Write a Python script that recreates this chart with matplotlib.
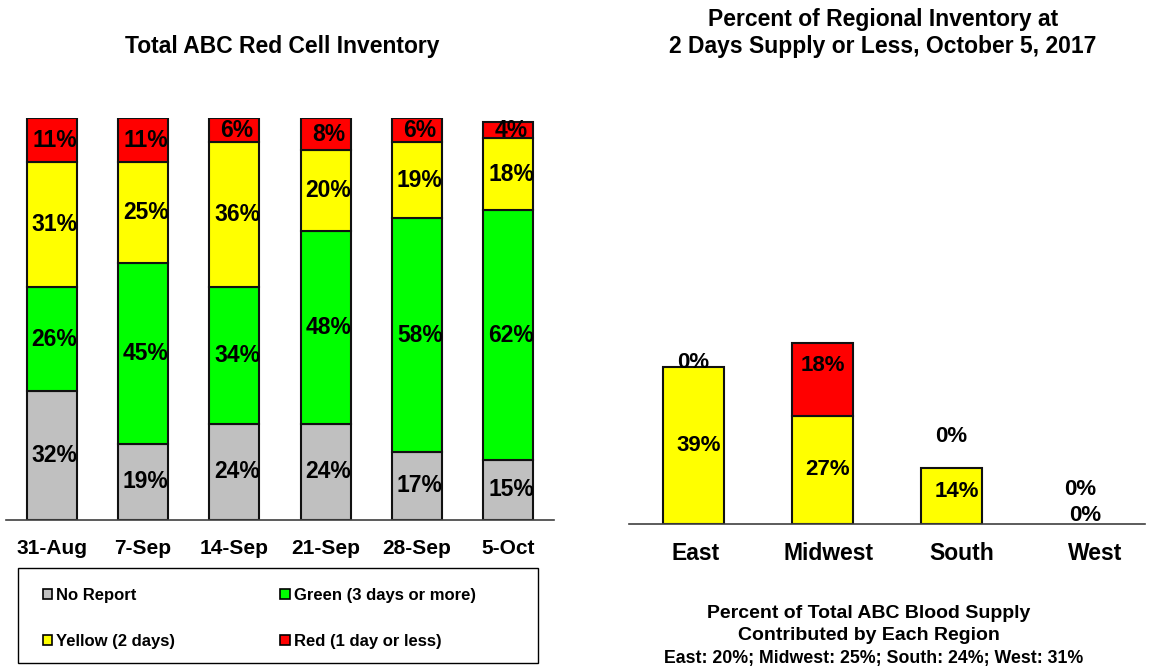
import matplotlib.pyplot as plt
from matplotlib.patches import Patch, Rectangle
import numpy as np

plt.rcParams["font.family"] = ["Liberation Sans", "DejaVu Sans"]
plt.rcParams["font.weight"] = "bold"

# Left chart: weekly inventory status (%)
weeks = ["31-Aug", "7-Sep", "14-Sep", "21-Sep", "28-Sep", "5-Oct"]
no_report = [32, 19, 24, 24, 17, 15]
green = [26, 45, 34, 48, 58, 62]
yellow = [31, 25, 36, 20, 19, 18]
red = [11, 11, 6, 8, 6, 4]

# Right chart: regional inventory at 2 days or less (%)
regions = ["East", "Midwest", "South", "West"]
region_yellow = [39, 27, 14, 0]
region_red = [0, 18, 0, 0]

supply_note = "East: 20%; Midwest: 25%; South: 24%; West: 31%"

GRAY = "#C0C0C0"
GREEN = "#00FF00"
YELLOW = "#FFFF00"
RED = "#FF0000"

W, H = 1159, 666
fig = plt.figure(figsize=(W / 100, H / 100), dpi=100)


def px_axes(x0, y0, x1, y1):
    return fig.add_axes([x0 / W, 1 - y1 / H, (x1 - x0) / W, (y1 - y0) / H])


def style_axes(ax, labels, ticks, size, pad):
    for side in ("top", "left", "right"):
        ax.spines[side].set_visible(False)
    ax.spines["bottom"].set_color("#404040")
    ax.spines["bottom"].set_linewidth(1.2)
    ax.set_yticks([])
    ax.set_xticks(ticks)
    ax.set_xticklabels(labels, fontsize=size, fontweight="bold")
    ax.tick_params(axis="x", length=0, pad=pad)
    ax.set_xlim(-0.5, len(labels) - 0.5)
    ax.set_ylim(0, 100)


# ---- left chart
ax1 = px_axes(6, 118, 554, 520)
x1 = np.arange(len(weeks))
bottom = np.zeros(len(weeks))
for vals, color in [(no_report, GRAY), (green, GREEN), (yellow, YELLOW), (red, RED)]:
    vals = np.array(vals, dtype=float)
    ax1.bar(x1, vals, 0.55, bottom=bottom, color=color, edgecolor="#111111",
            linewidth=1.5, zorder=2)
    for xi, b, v in zip(x1, bottom, vals):
        ax1.text(xi + 0.03, b + v / 2, "%d%%" % v, ha="center", va="center",
                 fontsize=16.5, fontweight="bold", zorder=3)
    bottom += vals
style_axes(ax1, weeks, x1, 15, 14)

fig.text(282 / W, 1 - 47 / H, "Total ABC Red Cell Inventory", ha="center",
         va="center", fontsize=16.5, fontweight="bold")

# legend box
fig.patches.append(Rectangle((18 / W, 1 - 663 / H), 520 / W, 95 / H,
                             transform=fig.transFigure, facecolor="white",
                             edgecolor="black", linewidth=1.0))
handles = [Patch(facecolor=GRAY, edgecolor="black", linewidth=1.2),
           Patch(facecolor=YELLOW, edgecolor="black", linewidth=1.2),
           Patch(facecolor=GREEN, edgecolor="black", linewidth=1.2),
           Patch(facecolor=RED, edgecolor="black", linewidth=1.2)]
labels = ["No Report", "Yellow (2 days)", "Green (3 days or more)", "Red (1 day or less)"]
leg = fig.legend(handles, labels, loc="upper left",
                 bbox_to_anchor=(43 / W, 1 - 588 / H),
                 ncol=2, fontsize=12, frameon=False, borderpad=0,
                 labelspacing=1.87, handlelength=0.55, handleheight=0.55,
                 handletextpad=0.25, borderaxespad=0, columnspacing=6.3)
for t in leg.get_texts():
    t.set_fontweight("bold")

# ---- right chart
ax2 = px_axes(629, 122.5, 1145, 524)
x2 = np.arange(len(regions))
ry = np.array(region_yellow, dtype=float)
rr = np.array(region_red, dtype=float)
ax2.bar(x2[ry > 0], ry[ry > 0], 0.48, color=YELLOW, edgecolor="#111111",
        linewidth=1.5, zorder=2)
ax2.bar(x2[rr > 0], rr[rr > 0], 0.48, bottom=ry[rr > 0], color=RED,
        edgecolor="#111111", linewidth=1.5, zorder=2)

# label nudges (in % units) to follow the original label placement
yellow_nudge = [0, 0, 1, 2.2]
red_nudge = [1.1, 3.6, 7.7, 8.5]
for i in range(len(regions)):
    ax2.text(x2[i] + 0.04, ry[i] / 2 + yellow_nudge[i], "%d%%" % ry[i],
             ha="center", va="center", fontsize=16, fontweight="bold", zorder=3)
    ax2.text(x2[i], ry[i] + rr[i] / 2 + red_nudge[i], "%d%%" % rr[i],
             ha="center", va="center", fontsize=16, fontweight="bold", zorder=3)
style_axes(ax2, regions, x2 * 1.03 + 0.02, 16.5, 13)

fig.text(883 / W, 1 - 33 / H,
         "Percent of Regional Inventory at\n2 Days Supply or Less, October 5, 2017",
         ha="center", va="center", fontsize=16.5, fontweight="bold", linespacing=1.2)
fig.text(869 / W, 1 - 613 / H, "Percent of Total ABC Blood Supply",
         ha="center", va="center", fontsize=14, fontweight="bold")
fig.text(869 / W, 1 - 636 / H, "Contributed by Each Region",
         ha="center", va="center", fontsize=14, fontweight="bold")
fig.text(874 / W, 1 - 658 / H, supply_note, ha="center", va="center",
         fontsize=12.8, fontweight="bold")

fig.savefig("out.png", dpi=100)
